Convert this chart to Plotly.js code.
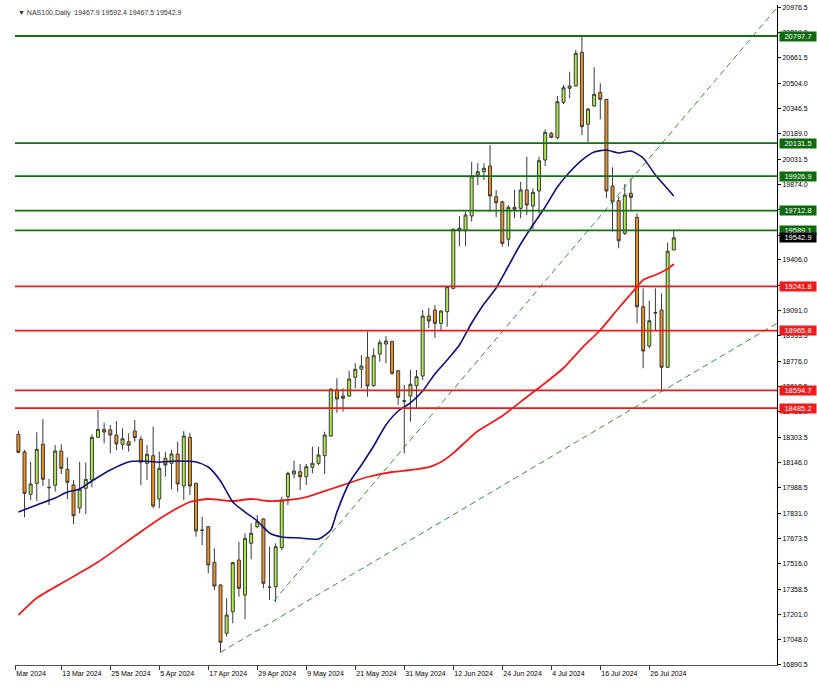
<!DOCTYPE html>
<html><head><meta charset="utf-8">
<script src="https://cdn.plot.ly/plotly-3.0.1.min.js"></script>
<style>html,body{margin:0;padding:0;background:#fff}#chart{width:817px;height:686px}</style>
</head><body><div id="chart"></div>
<script>
const symbol = "NAS100,Daily";
// Daily OHLC, 4 Mar 2024 .. 1 Aug 2024 (108 trading days)
const openP = [18321.9,18212.0,17948.9,18017.3,18259.7,17992.4,18004.9,18218.1,18104.3,18006.7,
17863.8,17986.2,18037.8,18303.2,18353.0,18350.0,18317.5,18259.7,18275.9,18342.4,
18290.8,18141.6,18188.9,17919.7,18172.7,18141.6,18199.4,18000.5,18303.2,18017.3,
17727.0,17747.5,17526.2,17385.1,17084.9,17219.2,17540.5,17323.0,17644.3,17747.5,
17795.4,17372.0,17374.6,17617.0,17934.0,18075.1,18089.4,18058.3,18116.8,18141.6,
18188.9,18311.3,18597.3,18560.0,18560.0,18676.2,18725.9,18800.5,18624.0,18821.0,
18883.2,18898.0,18717.2,18530.7,18560.0,18624.0,18684.3,19057.2,19094.5,19011.9,
19084.0,19229.4,19587.5,19587.5,19678.8,19933.7,19954.2,19989.6,19798.8,19767.0,
19534.0,19732.9,19726.7,19840.5,19741.0,19834.2,20026.9,20192.9,20165.6,20385.6,
20472.6,20486.9,20696.4,20248.9,20362.6,20447.8,20404.2,19865.3,19774.0,19571.3,
19820.0,19670.8,19115.1,18870.8,19075.9,19094.5,18738.4,19467.9];
const highP = [18344.3,18224.3,18151.6,18334.3,18417.0,18044.0,18255.4,18259.7,18178.9,18037.8,
18151.6,18146.6,18321.9,18472.9,18394.0,18379.7,18404.6,18359.2,18328.1,18410.8,
18311.3,18255.4,18369.1,18213.8,18213.8,18224.3,18275.9,18342.4,18331.8,18020.0,
17809.7,17751.9,17613.3,17390.0,17302.5,17530.0,17654.3,17706.5,17768.7,17820.3,
17799.7,17623.2,17644.3,17934.0,18089.4,18157.8,18137.3,18137.3,18244.8,18244.8,
18338.1,18607.8,18670.0,18607.8,18717.2,18763.2,18814.8,18959.7,18856.5,18908.1,
18932.9,18905.0,18721.6,18628.3,18721.6,18721.6,19094.5,19107.0,19125.6,19094.5,
19242.0,19602.4,19678.8,19705.6,20016.4,20006.4,20006.4,20120.2,19840.5,19774.0,
19747.2,19840.5,19892.0,20047.5,19851.0,20047.5,20217.8,20202.9,20424.8,20493.1,
20575.8,20710.7,20797.7,20348.3,20603.2,20503.7,20406.0,19981.6,19798.8,19877.8,
19913.2,19695.6,19229.4,19152.3,19229.4,19198.3,19512.9,19592.4];
const lowP = [18203.8,17806.0,17913.5,17907.3,18000.5,17882.4,17965.1,18075.1,17919.7,17764.3,
17830.8,17826.5,17992.4,18300.0,18265.9,18203.8,18224.3,18228.0,18213.8,18275.9,
18006.7,18037.8,17861.9,17861.9,18058.3,17980.0,17965.1,17913.5,17944.6,17685.4,
17633.8,17457.9,17354.1,16966.8,17063.8,17147.1,17312.4,17171.9,17544.9,17737.6,
17364.6,17291.9,17277.6,17602.7,17882.4,18048.4,17975.7,18006.7,18079.5,18131.1,
18075.1,18307.0,18456.2,18462.4,18555.0,18607.8,18607.8,18555.6,18617.8,18773.2,
18763.2,18690.5,18504.0,18203.8,18400.2,18483.5,18659.4,18982.7,18920.5,18970.2,
18990.7,19223.2,19492.4,19492.4,19643.4,19871.5,19902.6,19705.6,19670.8,19488.0,
19488.0,19664.6,19664.6,19685.1,19596.2,19695.6,19989.6,20161.8,20155.6,20375.0,
20410.5,20482.6,20182.3,20134.5,20358.3,20279.9,19788.9,19581.3,19478.1,19560.7,
19705.6,19011.9,18732.2,18856.5,18970.2,18586.7,18735.0,19467.5];
const closeP = [18210.0,17955.1,18013.0,18228.6,18042.2,17990.0,18218.1,18110.6,18023.6,17815.9,
17980.0,18042.2,18303.2,18353.0,18336.2,18317.5,18261.6,18294.6,18253.5,18300.7,
18147.8,18197.6,17876.2,18110.6,18131.1,18199.4,18013.0,18311.3,18000.5,17720.8,
17725.0,17509.5,17378.9,17029.0,17198.7,17523.8,17364.6,17675.4,17706.5,17778.6,
17395.7,17370.8,17623.2,17913.5,18079.5,18093.8,18058.3,18120.5,18141.6,18193.2,
18317.5,18601.6,18541.3,18545.7,18665.6,18725.9,18746.4,18622.1,18810.5,18891.3,
18901.8,18701.1,18551.9,18528.0,18632.7,18679.9,19057.2,19026.2,19011.9,19088.3,
19239.4,19596.2,19602.4,19685.1,19927.5,19954.2,19975.3,19803.2,19761.5,19509.1,
19732.9,19720.5,19840.5,19747.2,19826.2,20022.6,20199.1,20168.0,20389.3,20476.4,
20486.9,20690.2,20233.9,20344.0,20435.3,20404.2,19834.2,19767.7,19525.3,19809.4,
19795.1,19115.1,18839.7,19028.0,19078.0,18738.4,19460.0,19542.9];

// Moving averages (bar index, value)
const maFastIdx = [0,3,6,8,10,12,15,18,20,23,26,29,31,33,35,37,39,41,43,46,49,51,52,54,56,58,60,62,64,66,68,70,72,74,76,78,80,82,84,86,88,90,92,94,96,98,100,102,104,106,107];
const maFastVal = [17838.9,17882.4,17925.9,17963.2,17981.9,18031.6,18100.0,18149.7,18155.9,18149.7,18155.9,18149.7,18118.6,18031.6,17901.1,17838.9,17783.0,17708.4,17683.5,17677.3,17671.1,17727.0,17838.9,18019.2,18131.1,18249.2,18379.7,18466.7,18516.5,18591.0,18696.7,18783.7,18877.0,19013.7,19131.8,19231.3,19368.0,19504.8,19622.9,19734.8,19859.1,19952.3,20026.9,20076.7,20089.1,20070.5,20082.9,20039.4,19933.7,19846.7,19803.2];
const maSlowIdx = [0,3,8,13,19,23,26,28,31,35,38,41,44,47,51,54,57,61,64,67,69,71,73,75,79,83,86,89,92,95,98,100,102,104,106,107];
const maSlowVal = [17198.0,17304.3,17416.2,17528.1,17689.7,17795.4,17863.8,17901.1,17919.7,17907.3,17919.7,17907.3,17913.5,17932.1,17981.9,18019.2,18056.5,18087.5,18100.0,18118.0,18150.0,18205.0,18275.0,18342.4,18435.6,18553.7,18640.8,18734.0,18858.3,18970.2,19107.0,19194.0,19281.0,19312.1,19349.4,19380.5];

// Trendlines (bar index, price)
const trendSteepIdx = [41.7, 123.85];
const trendSteepVal = [17285.7, 20974.0];
const trendLowIdx = [33, 123.85];
const trendLowVal = [16966.8, 19012.0];

// Horizontal levels
const greenLevels = [20797.7, 20131.5, 19926.9, 19712.8, 19589.1];
const redLevels = [19241.8, 18965.8, 18594.7, 18485.2];

// Axis ticks
const yTickLabels = ["20976.5","20819.0","20661.5","20504.0","20346.5","20189.0","20031.5","19874.0","19716.5","19559.0","19406.0","19248.5","19091.0","18933.5","18776.0","18618.5","18461.0","18303.5","18146.0","17988.5","17831.0","17673.5","17516.0","17358.5","17201.0","17048.0","16890.5"];
const xTickLabels = ["Mar 2024","13 Mar 2024","25 Mar 2024","5 Apr 2024","17 Apr 2024","29 Apr 2024","9 May 2024","21 May 2024","31 May 2024","12 Jun 2024","24 Jun 2024","4 Jul 2024","16 Jul 2024","26 Jul 2024"];
const xTickIndex = [-0.5,7,15,23,31,39,47,55,63,71,79,87,95,103];

const idx = openP.map((_, i) => i);
const n = closeP.length;
const font7 = {family: "Liberation Sans, Arial, sans-serif", size: 7, color: "#000"};

const traces = [
  {type: "candlestick", x: idx, open: openP, high: highP, low: lowP, close: closeP,
   increasing: {line: {color: "#3a3a3a", width: 1}, fillcolor: "#adea4c"},
   decreasing: {line: {color: "#3a3a3a", width: 1}, fillcolor: "#ee9022"},
   whiskerwidth: 0, hoverinfo: "skip", showlegend: false},
  {type: "scatter", mode: "lines", x: maSlowIdx, y: maSlowVal,
   line: {color: "#ee1c1c", width: 1.8, shape: "spline", smoothing: 0.6}, hoverinfo: "skip"},
  {type: "scatter", mode: "lines", x: maFastIdx, y: maFastVal,
   line: {color: "#10107a", width: 1.6, shape: "spline", smoothing: 0.6}, hoverinfo: "skip"},
  {type: "scatter", mode: "lines", x: trendSteepIdx, y: trendSteepVal,
   line: {color: "#3c8f3c", width: 1, dash: "6px,4px"}, hoverinfo: "skip"},
  {type: "scatter", mode: "lines", x: trendLowIdx, y: trendLowVal,
   line: {color: "#3c8f3c", width: 1, dash: "6px,4px"}, hoverinfo: "skip"}
];

const shapes = [];
greenLevels.forEach(v => shapes.push({type: "line", xref: "paper", x0: 0, x1: 1, yref: "y", y0: v, y1: v,
  line: {color: "#127012", width: 1.8}, layer: "above"}));
redLevels.forEach(v => shapes.push({type: "line", xref: "paper", x0: 0, x1: 1, yref: "y", y0: v, y1: v,
  line: {color: "#f01818", width: 1.8}, layer: "above"}));

const annotations = [];
function levelLabel(v, bg) {
  annotations.push({xref: "paper", x: 1, xanchor: "left", xshift: 2, yref: "y", y: v, yanchor: "middle",
    text: v.toFixed(1), showarrow: false, bgcolor: bg, width: 36, height: 9, borderpad: 0,
    font: {family: "Liberation Sans, Arial, sans-serif", size: 7.5, color: "#fff"}});
}
greenLevels.forEach(v => levelLabel(v, "#0c6a0c"));
redLevels.forEach(v => levelLabel(v, "#f21a1a"));
levelLabel(closeP[n - 1], "#000");

annotations.push({xref: "paper", x: 0, xanchor: "left", xshift: 1, yref: "paper", y: 1, yanchor: "top", yshift: -2,
  text: "▼ " + symbol + "  " + [openP[n-1], highP[n-1], lowP[n-1], closeP[n-1]].map(v => v.toFixed(1)).join(" "),
  showarrow: false, font: {family: "Liberation Sans, Arial, sans-serif", size: 7, color: "#333"}});

const layout = {
  width: 817, height: 686,
  margin: {l: 15, r: 40, t: 5, b: 21},
  paper_bgcolor: "#fff", plot_bgcolor: "#fff",
  showlegend: false,
  xaxis: {range: [-0.555, 123.85], showgrid: false, zeroline: false, showline: true, linecolor: "#555", linewidth: 1,
    ticks: "outside", ticklen: 4, tickcolor: "#333", tickvals: xTickIndex, ticktext: xTickLabels, tickangle: 0,
    ticklabelposition: "outside right", ticklabelstandoff: 2, tickfont: font7, rangeslider: {visible: false}, fixedrange: true},
  yaxis: {side: "right", range: [16887.9, 20990.4], showgrid: false, zeroline: false, showline: true,
    linecolor: "#000", linewidth: 1, ticks: "outside", ticklen: 3, tickcolor: "#000",
    tickvals: yTickLabels.map(Number), ticktext: yTickLabels, tickfont: font7, fixedrange: true},
  shapes: shapes,
  annotations: annotations
};

Plotly.newPlot("chart", traces, layout, {staticPlot: true, displayModeBar: false});
</script>
</body></html>
